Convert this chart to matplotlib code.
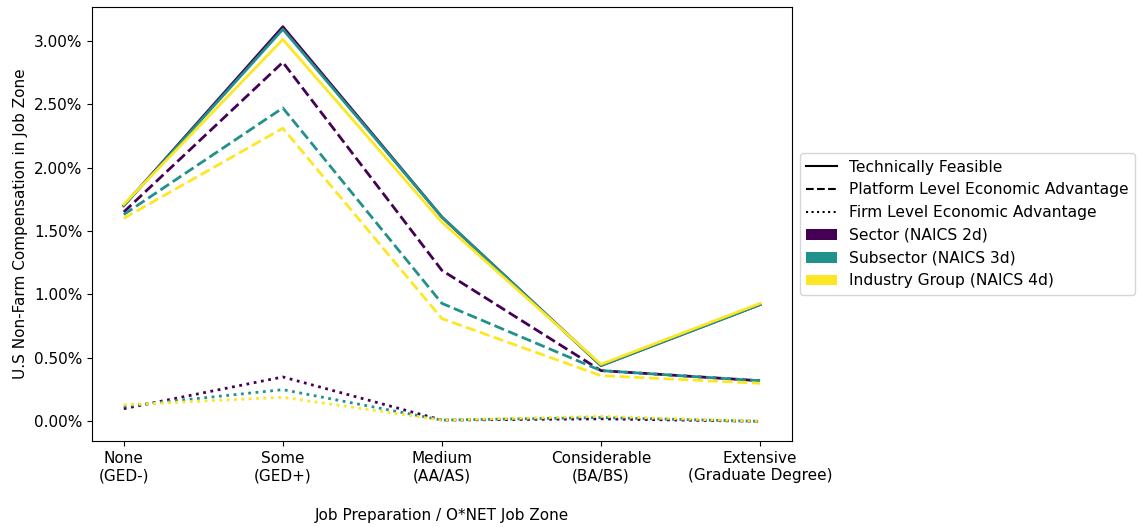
import matplotlib
matplotlib.use("Agg")
import matplotlib.pyplot as plt
from matplotlib.lines import Line2D
from matplotlib.patches import Patch
from matplotlib.ticker import PercentFormatter

categories = ["None\n(GED-)", "Some\n(GED+)", "Medium\n(AA/AS)", "Considerable\n(BA/BS)", "Extensive\n(Graduate Degree)"]
levels = ["Sector (NAICS 2d)", "Subsector (NAICS 3d)", "Industry Group (NAICS 4d)"]
colors = ["#440154", "#21918c", "#fde725"]

technically_feasible = [
    [1.70, 3.11, 1.61, 0.44, 0.92],
    [1.70, 3.09, 1.61, 0.44, 0.92],
    [1.71, 3.01, 1.57, 0.45, 0.93],
]
platform_advantage = [
    [1.65, 2.83, 1.19, 0.40, 0.32],
    [1.63, 2.47, 0.93, 0.40, 0.32],
    [1.60, 2.31, 0.81, 0.36, 0.30],
]
firm_advantage = [
    [0.10, 0.35, 0.01, 0.02, 0.00],
    [0.12, 0.25, 0.01, 0.03, 0.00],
    [0.13, 0.19, 0.01, 0.04, 0.00],
]

fig = plt.figure(figsize=(11.41, 5.27), dpi=100)
ax = fig.add_axes([0.0806, 0.163, 0.6134, 0.8237])
x = list(range(len(categories)))
for i, c in enumerate(colors):
    ax.plot(x, technically_feasible[i], color=c, linestyle="-", lw=2)
    ax.plot(x, platform_advantage[i], color=c, linestyle="--", lw=2)
    ax.plot(x, firm_advantage[i], color=c, linestyle=":", lw=2)

ax.set_xticks(x)
ax.set_xticklabels(categories, fontsize=11)
ax.tick_params(axis="y", labelsize=11)
ax.yaxis.set_major_formatter(PercentFormatter(100, decimals=2))
ax.set_yticks([0, 0.5, 1.0, 1.5, 2.0, 2.5, 3.0])
ax.set_xlabel("Job Preparation / O*NET Job Zone", fontsize=11, labelpad=18)
ax.set_ylabel("U.S Non-Farm Compensation in Job Zone", fontsize=11)

handles = [
    Line2D([0], [0], color="black", linestyle="-", lw=1.5, label="Technically Feasible"),
    Line2D([0], [0], color="black", linestyle="--", lw=1.5, label="Platform Level Economic Advantage"),
    Line2D([0], [0], color="black", linestyle=":", lw=1.5, label="Firm Level Economic Advantage"),
] + [Patch(facecolor=c, label=l) for c, l in zip(colors, levels)]
ax.legend(handles=handles, loc="center left", bbox_to_anchor=(1.0, 0.5), fontsize=11.2)

fig.savefig("out.png", dpi=100)
